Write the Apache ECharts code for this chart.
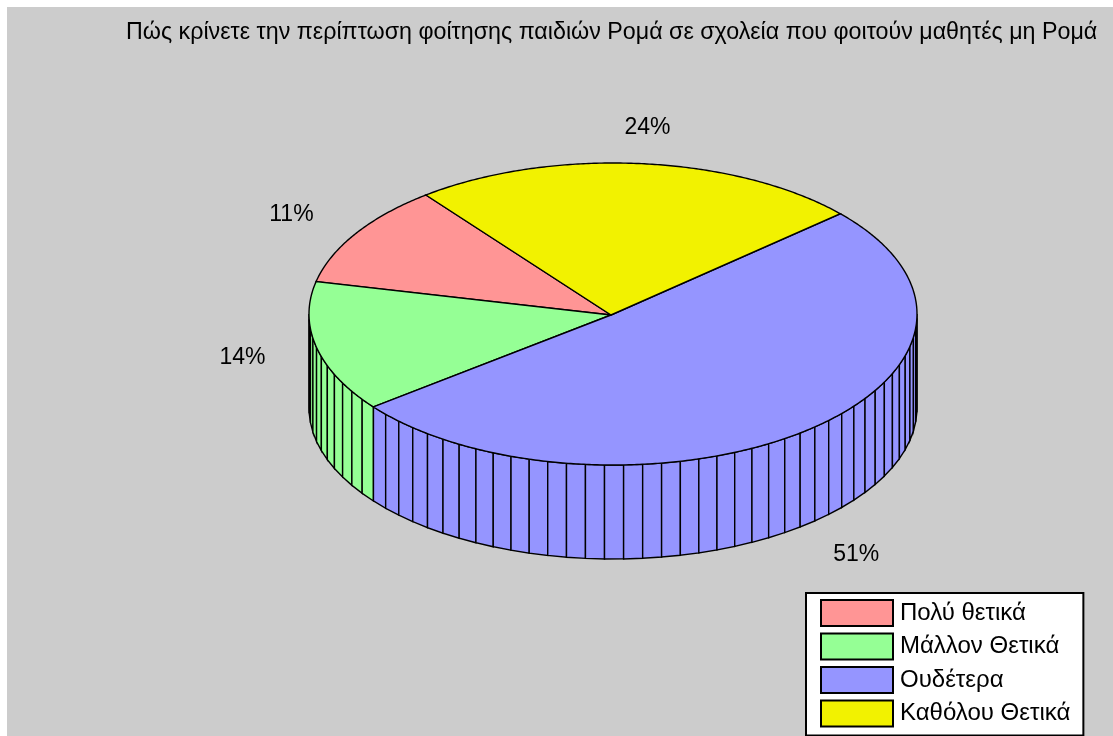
<!DOCTYPE html>
<html>
<head>
<meta charset="utf-8">
<style>
html, body { margin: 0; padding: 0; background: #fff; }
#chart { width: 1113px; height: 736px; }
</style>
<script src="https://cdn.jsdelivr.net/npm/echarts@6/dist/echarts.min.js"></script>
</head>
<body>
<div id="chart"></div>
<script>
const titleText = 'Πώς κρίνετε την περίπτωση φοίτησης παιδιών Ρομά σε σχολεία που φοιτούν μαθητές μη Ρομά';
const categories = ['Πολύ θετικά', 'Μάλλον Θετικά', 'Ουδέτερα', 'Καθόλου Θετικά'];
const values = [11, 14, 51, 24];
const colors = ['#ff9595', '#95ff95', '#9595ff', '#f2f200'];

const cx = 613, cy = 314, rx = 304, ry = 151, depth = 94;
const hub = [611, 315];
const startDeg = 128;
const facetDeg = 3.6;
const font = '"Liberation Sans", Arial, sans-serif';

const total = values.reduce((a, b) => a + b, 0);
const rad = d => d * Math.PI / 180;
const pt = (d, dy) => [cx + rx * Math.cos(rad(d)), cy - ry * Math.sin(rad(d)) + (dy || 0)];

function sliceStart(i) {
  let sum = 0;
  for (let j = 0; j < i; j++) sum += values[j];
  return startDeg + sum / total * 360;
}

function renderSlice(params, api) {
  const i = params.seriesIndex;
  const a0 = sliceStart(i);
  const a1 = a0 + values[i] / total * 360;
  const children = [];
  const lineStyle = { stroke: '#000', lineWidth: 1.4 };

  // rim facets, only the front half of the disc is visible
  for (let a = a0; a < a1 - 0.01; a += facetDeg) {
    const f0 = Math.max(a, 180);
    const f1 = Math.min(a + facetDeg, a1, 360);
    if (f1 <= f0) continue;
    children.push({
      type: 'polygon',
      shape: { points: [pt(f0), pt(f1), pt(f1, depth), pt(f0, depth)] },
      style: { fill: colors[i], ...lineStyle }
    });
  }

  // top face
  const top = [hub];
  for (let a = a0; a < a1; a += 0.5) top.push(pt(a));
  top.push(pt(a1));
  children.push({
    type: 'polygon',
    z2: 10,
    shape: { points: top },
    style: { fill: colors[i], ...lineStyle }
  });

  // percent label
  const mid = (a0 + a1) / 2;
  const lp = [
    cx + 1.25 * rx * Math.cos(rad(mid)),
    cy + 1.5 - 1.25 * ry * Math.sin(rad(mid)) + (Math.sin(rad(mid)) < -0.5 ? depth : 0)
  ];
  children.push({
    type: 'text',
    z2: 20,
    style: {
      x: lp[0], y: lp[1],
      text: values[i] + '%',
      fill: '#000',
      font: '23px ' + font,
      align: 'center',
      verticalAlign: 'middle'
    }
  });
  return { type: 'group', children };
}

const chart = echarts.init(document.getElementById('chart'), null, { renderer: 'canvas' });
chart.setOption({
  animation: false,
  backgroundColor: '#fff',
  title: {
    text: titleText,
    left: 126,
    top: 21,
    padding: 0,
    textStyle: { fontFamily: font, fontSize: 23.25, fontWeight: 'normal', color: '#000' }
  },
  graphic: [{
    type: 'rect',
    z: -1,
    shape: { x: 7, y: 7, width: 1106, height: 729 },
    style: { fill: '#cccccc' }
  }],
  legend: {
    orient: 'vertical',
    left: 806,
    top: 593,
    height: 132,
    icon: 'rect',
    itemWidth: 72,
    itemHeight: 26,
    itemGap: 5.5,
    padding: [6, 13, 8, 14],
    backgroundColor: '#fff',
    borderColor: '#000',
    borderWidth: 2,
    selectedMode: false,
    data: categories,
    textStyle: { fontFamily: font, fontSize: 24, color: '#000', padding: [0, 0, 0, 2] },
    itemStyle: { borderColor: '#000', borderWidth: 2 }
  },
  series: categories.map((name, i) => ({
    name,
    type: 'custom',
    coordinateSystem: 'none',
    silent: true,
    itemStyle: { color: colors[i] },
    renderItem: renderSlice,
    data: [values[i]]
  }))
});
</script>
</body>
</html>
